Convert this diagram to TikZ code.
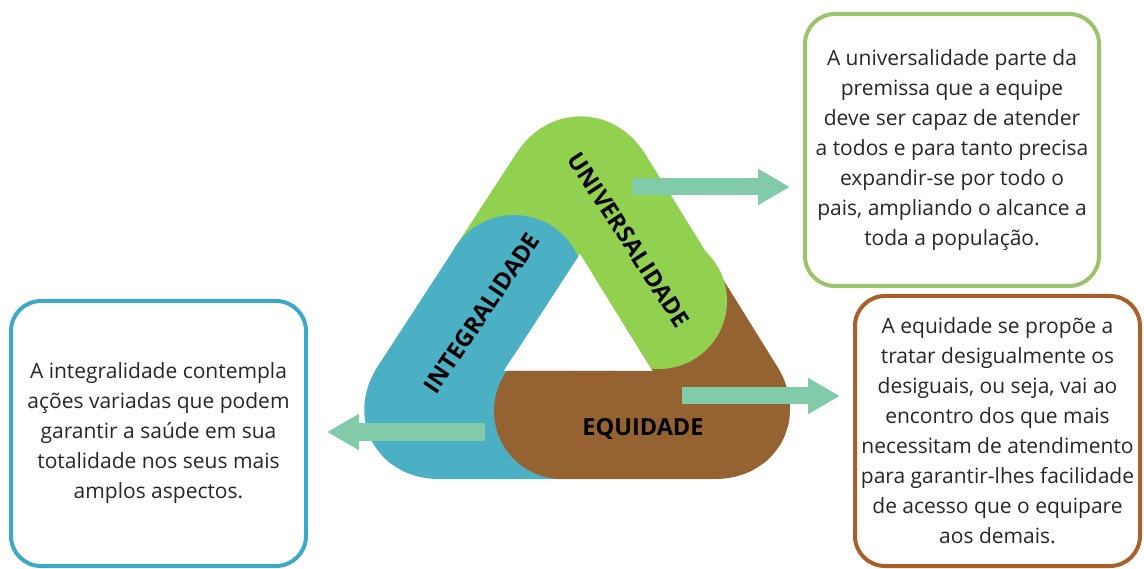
\documentclass[tikz,border=0pt]{standalone}
\usepackage{fontspec}
\setmainfont{Open Sans}
\usetikzlibrary{arrows.meta}
\usetikzlibrary{calc}

\definecolor{univgreen}{HTML}{92D050}
\definecolor{integblue}{HTML}{4BB0C4}
\definecolor{equibrown}{HTML}{956232}
\definecolor{arrowgreen}{HTML}{82CBAA}
\definecolor{univline}{HTML}{9DC46A}
\definecolor{integline}{HTML}{3DA9C6}
\definecolor{equiline}{HTML}{A85F2A}
\definecolor{textgray}{HTML}{262626}

\begin{document}
\begin{tikzpicture}[x=1pt, y=-1pt,
	band/.style={line width=108pt, line join=round, rounded corners=35pt},
	bandlabel/.style={font=\fontsize{23.5}{23.5}\selectfont\bfseries, text=black},
	infobox/.style={draw, line width=4pt, rounded corners=30pt, inner sep=0pt, align=center, text=textgray, font=\fontsize{21}{30}\selectfont},
	fatarrow/.style={draw=arrowgreen, line width=17pt, -{Triangle[length=32pt, width=34pt]}}]

	\useasboundingbox (0,0) rectangle (1144,569);

	%triangle corners
	\coordinate (T) at (581,153);
	\coordinate (L) at (404,425);
	\coordinate (R) at (750,425);
	\coordinate (univend) at ($(T)!0.519!(R)$);
	\coordinate (equiend) at ($(R)!0.543!(L)$);
	\coordinate (integend) at ($(L)!0.546!(T)$);

	%bands
	\draw[band, univgreen] (integend) -- (T) -- (univend);
	\draw[band, equibrown] (univend) -- (R) -- (equiend);
	\draw[band, integblue] (equiend) -- (L) -- (integend);

	%band ends, kept out of the hole
	\begin{scope}[even odd rule]
		\clip (0,0) rectangle (1144,569) (580,253.8) -- (503.7,371) -- (652.9,371) -- cycle;
		\fill[univgreen] (659,301) circle (68pt);
		\fill[equibrown] (562,411) circle (68pt);
		\fill[integblue] (514,285) circle (70pt);
	\end{scope}

	%band labels
	\node[bandlabel, rotate=-57] (UnivLabel) at (629,240) {UNIVERSALIDADE};
	\node[bandlabel, rotate=56] (IntegLabel) at (482,313) {INTEGRALIDADE};
	\node[bandlabel] (EquiLabel) at (643,429) {EQUIDADE};

	%info boxes
	\node[infobox, draw=univline, minimum width=294pt, minimum height=272pt] (UnivBox) at (952,150)
		{A universalidade parte da\\ premissa que a equipe\\ deve ser capaz de atender\\ a todos e para tanto precisa\\ expandir-se por todo o\\ pais, ampliando o alcance a\\ toda a população.};
	\node[infobox, draw=equiline, minimum width=285pt, minimum height=270pt] (EquiBox) at (997.5,431)
		{A equidade se propõe a\\ tratar desigualmente os\\ desiguais, ou seja, vai ao\\ encontro dos que mais\\ necessitam de atendimento\\ para garantir-lhes facilidade\\ de acesso que o equipare\\ aos demais.};
	\node[infobox, draw=integline, minimum width=295pt, minimum height=265pt] (IntegBox) at (158.5,433.5)
		{A integralidade contempla\\ ações variadas que podem\\ garantir a saúde em sua\\ totalidade nos seus mais\\ amplos aspectos.};

	%arrows
	\coordinate (UnivStart) at (632,187);
	\coordinate (EquiStart) at (682,396);
	\coordinate (IntegStart) at (485,432);
	\draw[fatarrow, shorten >=13pt] (UnivStart) -- (UnivStart -| UnivBox.west);
	\draw[fatarrow, shorten >=13pt] (EquiStart) -- (EquiStart -| EquiBox.west);
	\draw[fatarrow, shorten >=19pt] (IntegStart) -- (IntegStart -| IntegBox.east);
\end{tikzpicture}
\end{document}
